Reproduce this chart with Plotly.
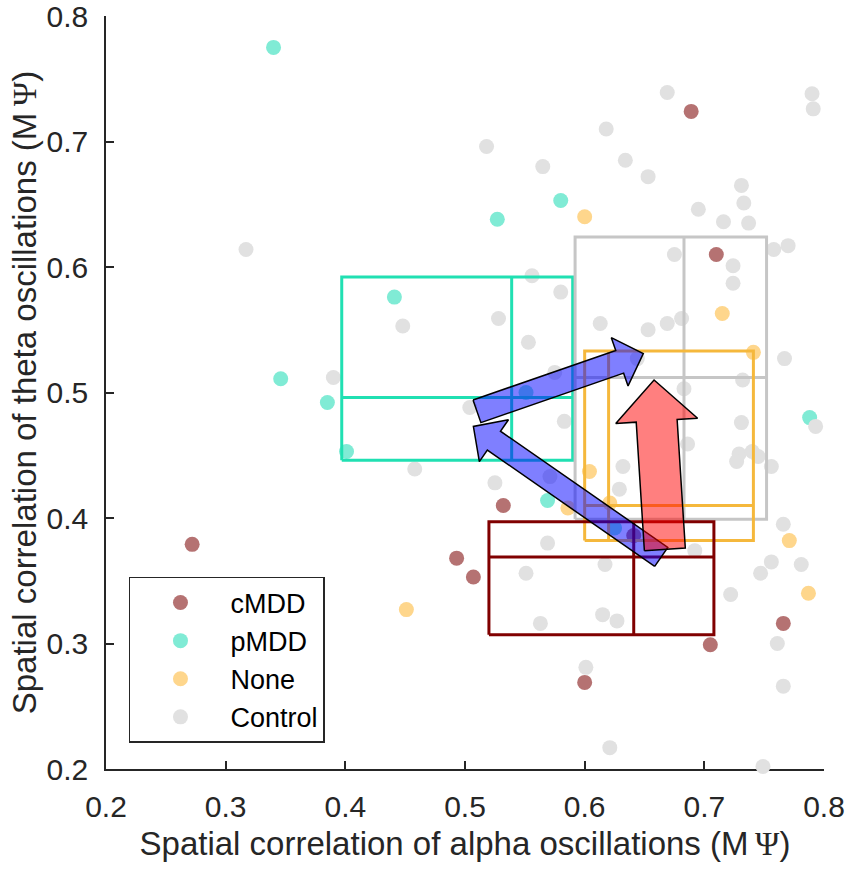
import numpy as np
import plotly.graph_objects as go

# group scatter data (alpha corr, theta corr)
cmdd_x = [0.272, 0.493, 0.507, 0.532, 0.600, 0.705, 0.766, 0.689, 0.710, 0.641]
cmdd_y = [0.379, 0.368, 0.353, 0.410, 0.269, 0.299, 0.316, 0.724, 0.610, 0.386]

pmdd_x = [0.340, 0.441, 0.346, 0.385, 0.401, 0.527, 0.580, 0.569, 0.788, 0.551, 0.625]
pmdd_y = [0.775, 0.576, 0.511, 0.492, 0.453, 0.638, 0.653, 0.414, 0.480, 0.500, 0.392]

none_x = [0.451, 0.600, 0.715, 0.741, 0.604, 0.771, 0.787, 0.586, 0.621]
none_y = [0.327, 0.640, 0.563, 0.532, 0.437, 0.382, 0.340, 0.408, 0.412]

control_x = [0.317, 0.448, 0.390, 0.518, 0.458, 0.504, 0.669, 0.790, 0.791, 0.618,
             0.565, 0.634, 0.653, 0.731, 0.733, 0.695, 0.716, 0.737, 0.758, 0.770,
             0.675, 0.724, 0.724, 0.556, 0.580, 0.528, 0.553, 0.613, 0.653, 0.669,
             0.681, 0.767, 0.732, 0.683, 0.575, 0.644, 0.583, 0.731, 0.793, 0.686,
             0.729, 0.740, 0.745, 0.727, 0.756, 0.632, 0.629, 0.766, 0.569, 0.692,
             0.525, 0.571, 0.756, 0.747, 0.781, 0.617, 0.551, 0.722, 0.615, 0.627,
             0.563, 0.761, 0.601, 0.766, 0.621, 0.749]
control_y = [0.614, 0.553, 0.512, 0.696, 0.439, 0.488, 0.739, 0.738, 0.726, 0.710,
             0.680, 0.685, 0.672, 0.665, 0.651, 0.646, 0.636, 0.635, 0.614, 0.617,
             0.610, 0.601, 0.587, 0.593, 0.580, 0.559, 0.540, 0.555, 0.550, 0.555,
             0.559, 0.527, 0.510, 0.503, 0.516, 0.527, 0.477, 0.476, 0.473, 0.459,
             0.451, 0.453, 0.449, 0.445, 0.441, 0.441, 0.423, 0.395, 0.380, 0.374,
             0.428, 0.433, 0.365, 0.356, 0.363, 0.363, 0.356, 0.339, 0.323, 0.318,
             0.316, 0.300, 0.281, 0.266, 0.217, 0.202]

# quartile boxes: [q1, median, q3]
box_groups = ["pMDD", "Control", "None", "cMDD"]
box_x = [[0.397, 0.539, 0.590], [0.592, 0.683, 0.752], [0.600, 0.620, 0.741], [0.520, 0.641, 0.708]]
box_y = [[0.446, 0.496, 0.592], [0.399, 0.512, 0.624], [0.382, 0.410, 0.533], [0.307, 0.369, 0.397]]

# arrows between group centres
arrow_tail_x = [0.664, 0.510, 0.667]
arrow_tail_y = [0.369, 0.485, 0.375]
arrow_tip_x = [0.507, 0.649, 0.658]
arrow_tip_y = [0.473, 0.531, 0.510]

colors = {"cMDD": "#b57272", "pMDD": "#80ebd5", "None": "#fed68c", "Control": "#e1e1e1"}
box_colors = {"pMDD": "#20e0b2", "Control": "#c6c6c6", "None": "#f5b83c", "cMDD": "#800000"}

W, H = 851, 872
ml, mr, mt, mb = 106, 27, 16, 103
x_rng = [0.2, 0.8]
y_rng = [0.2, 0.8]
sx = (W - ml - mr) / (x_rng[1] - x_rng[0])
sy = (H - mt - mb) / (y_rng[1] - y_rng[0])

fig = go.Figure()

for name, xs, ys in [("cMDD", cmdd_x, cmdd_y), ("pMDD", pmdd_x, pmdd_y),
                     ("None", none_x, none_y), ("Control", control_x, control_y)]:
    fig.add_trace(go.Scatter(x=xs, y=ys, mode="markers", name=name,
                             marker=dict(size=15, color=colors[name], line=dict(width=0)),
                             cliponaxis=False))

for g, bx, by in zip(box_groups, box_x, box_y):
    x1, xm, x3 = bx
    y1, ym, y3 = by
    fig.add_trace(go.Scatter(
        x=[x1, x3, x3, x1, x1, None, xm, xm, None, x1, x3],
        y=[y1, y1, y3, y3, y1, None, y1, y3, None, ym, ym],
        mode="lines", line=dict(color=box_colors[g], width=3),
        showlegend=False, hoverinfo="skip"))


def block_arrow(x0, y0, x1, y1, shaft, head_w, head_l):
    # build polygon in pixel space so the arrow keeps its shape
    p0 = np.array([(x0 - x_rng[0]) * sx, (y0 - y_rng[0]) * sy])
    p1 = np.array([(x1 - x_rng[0]) * sx, (y1 - y_rng[0]) * sy])
    d = (p1 - p0) / np.linalg.norm(p1 - p0)
    n = np.array([-d[1], d[0]])
    base = p1 - d * head_l
    pts = [p0 + n * shaft / 2, base + n * shaft / 2, base + n * head_w / 2, p1,
           base - n * head_w / 2, base - n * shaft / 2, p0 - n * shaft / 2, p0 + n * shaft / 2]
    xs = [p[0] / sx + x_rng[0] for p in pts]
    ys = [p[1] / sy + y_rng[0] for p in pts]
    return xs, ys


arrow_style = [("rgba(0,0,255,0.5)", 23, 51, 25),
               ("rgba(0,0,255,0.5)", 24, 51, 25),
               ("rgba(255,0,0,0.5)", 41, 82, 41)]
for i, (fill, shaft, hw, hl) in enumerate(arrow_style):
    ax, ay = block_arrow(arrow_tail_x[i], arrow_tail_y[i], arrow_tip_x[i], arrow_tip_y[i], shaft, hw, hl)
    fig.add_trace(go.Scatter(x=ax, y=ay, mode="lines", fill="toself", fillcolor=fill,
                             line=dict(color="black", width=1.5), showlegend=False, hoverinfo="skip"))

psi = '<span style="font-family:Liberation Serif">\u03a8</span>'
axis_common = dict(showline=True, linecolor="#262626", linewidth=1.5, ticks="inside", ticklen=8,
                   tickwidth=1.5, tickcolor="#262626", showgrid=False, zeroline=False,
                   tickfont=dict(family="Liberation Sans", size=30, color="#262626"),
                   dtick=0.1, tickformat=".1f", layer="below traces", mirror=False,
                   automargin=False, ticklabeloverflow="allow")

fig.update_layout(
    width=W, height=H,
    margin=dict(l=ml, r=mr, t=mt, b=mb),
    plot_bgcolor="white", paper_bgcolor="white",
    xaxis=dict(range=x_rng, tick0=0.2, ticklabelstandoff=10,
               title=dict(text="Spatial correlation of alpha oscillations (M\u2009" + psi + ")",
                          font=dict(family="Liberation Sans", size=33, color="#262626"), standoff=10),
               **axis_common),
    yaxis=dict(range=y_rng, tick0=0.2, ticklabelstandoff=10,
               title=dict(text="Spatial correlation of theta oscillations (M\u2009" + psi + ")",
                          font=dict(family="Liberation Sans", size=33, color="#262626"), standoff=0),
               **axis_common),
    legend=dict(x=0.032, y=0.255, xanchor="left", yanchor="top",
                bgcolor="white", bordercolor="#262626", borderwidth=1.5,
                font=dict(family="Liberation Sans", size=27, color="black"),
                itemwidth=90, tracegroupgap=0),
    showlegend=True,
)

# drop the default page margin so the figure sits at the window's corner
fig.write_html("out.html", config={"displayModeBar": False},
               post_script="document.body.style.margin='0';")
